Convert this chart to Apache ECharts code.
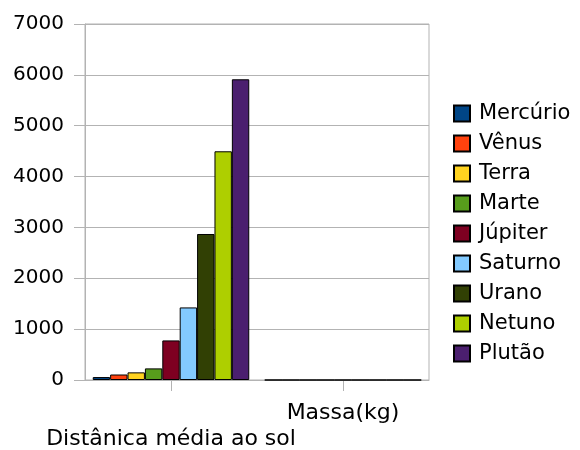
<!DOCTYPE html>
<html>
<head>
<meta charset="utf-8">
<script src="https://cdn.jsdelivr.net/npm/echarts@6/dist/echarts.min.js"></script>
<style>html,body{margin:0;padding:0;background:#fff;}#c{width:580px;height:450px;}</style>
</head>
<body>
<div id="c"></div>
<script>
var categories = ['Distânica média ao sol', 'Massa(kg)'];
var planets = ['Mercúrio', 'Vênus', 'Terra', 'Marte', 'Júpiter', 'Saturno', 'Urano', 'Netuno', 'Plutão'];
var colors = ['#004586', '#ff420e', '#ffd320', '#579d1c', '#7e0021', '#83caff', '#314004', '#aecf00', '#4b1f6f'];
var mercurio = [58, 0];
var venus = [108, 0];
var terra = [150, 0];
var marte = [228, 0];
var jupiter = [778, 0];
var saturno = [1427, 0];
var urano = [2871, 0];
var netuno = [4497, 0];
var plutao = [5913, 0];
var yTicks = [0, 1000, 2000, 3000, 4000, 5000, 6000, 7000];

var values = [mercurio, venus, terra, marte, jupiter, saturno, urano, netuno, plutao];
var font = 'DejaVu Sans';
var series = planets.map(function (name, i) {
  return {
    name: name,
    type: 'bar',
    data: values[i],
    barGap: '0%',
    barCategoryGap: '9%',
    itemStyle: { color: colors[i], borderColor: '#000', borderWidth: 1 }
  };
});

var chart = echarts.init(document.getElementById('c'), null, { renderer: 'canvas' });
chart.setOption({
  animation: false,
  backgroundColor: '#fff',
  grid: { left: 85, top: 24, right: 151, bottom: 70, show: true, borderColor: '#b3b3b3', borderWidth: 1, containLabel: false, outerBoundsMode: 'none' },
  legend: {
    orient: 'vertical',
    left: 453,
    top: 103,
    padding: 0,
    itemWidth: 16,
    itemHeight: 16,
    itemGap: 9,
    icon: 'rect',
    textStyle: { fontFamily: font, fontSize: 21, color: '#000', lineHeight: 16, padding: [0, 0, 0, 4] },
    data: planets
  },
  xAxis: {
    type: 'category',
    data: categories,
    axisLine: { lineStyle: { color: '#b3b3b3' } },
    axisTick: { show: true, alignWithLabel: true, length: 11, lineStyle: { color: '#b3b3b3' } },
    axisLabel: {
      interval: 0,
      fontFamily: font,
      fontSize: 22,
      color: '#000',
      margin: 20,
      lineHeight: 26,
      formatter: function (v, idx) { return idx % 2 === 0 ? '\n' + v : v; }
    }
  },
  yAxis: {
    type: 'value',
    min: 0,
    max: 7000,
    interval: 1000,
    axisLine: { show: true, lineStyle: { color: '#b3b3b3' } },
    axisTick: { show: true, length: 11, lineStyle: { color: '#b3b3b3' } },
    splitLine: { lineStyle: { color: '#b3b3b3' } },
    axisLabel: {
      fontFamily: font,
      fontSize: 20,
      color: '#000',
      margin: 21,
      formatter: function (v) { return yTicks.indexOf(v) >= 0 ? String(v) : ''; }
    }
  },
  series: series
});
</script>
</body>
</html>
